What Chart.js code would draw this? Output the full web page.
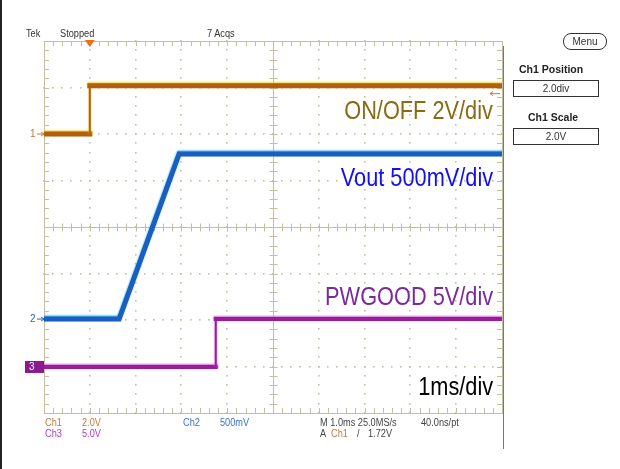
<!DOCTYPE html>
<html>
<head>
<meta charset="utf-8">
<script src="https://cdn.jsdelivr.net/npm/chart.js@4.4.1/dist/chart.umd.min.js"></script>
<style>
  body { margin: 0; background: #fff; }
  #wrap { position: relative; width: 620px; height: 469px; overflow: hidden; border-left: 2px solid #222; box-sizing: border-box; }
  #scope { position: absolute; left: -2px; top: 0; }
  .t { position: absolute; white-space: nowrap; font-family: "Liberation Sans Narrow", "Liberation Sans", Arial, sans-serif; }
  .s { font-size: 10px; line-height: 10px; color: #333; transform: scaleX(0.92); transform-origin: left; }
  .big { font-size: 25px; line-height: 25px; text-align: right; right: 127px; transform: scaleX(0.87); transform-origin: right; }
  .box { position: absolute; border: 1px solid #333; box-sizing: border-box; text-align: center;
         font-family: "Liberation Sans Narrow", "Liberation Sans", Arial, sans-serif; font-size: 10px; color: #333; }
  .hd { font-family: "Liberation Sans", Arial, sans-serif; font-weight: bold; font-size: 10.5px; color: #222; }
</style>
</head>
<body>
<div id="wrap">
  <canvas id="scope" width="620" height="469"></canvas>

  <div class="t s" style="left:24px;top:29px;">Tek</div>
  <div class="t s" style="left:58px;top:29px;">Stopped</div>
  <div class="t s" style="left:205px;top:29px;">7 Acqs</div>

  <div class="t big" style="top:98px;color:#8a6a14;">ON/OFF 2V/div</div>
  <div class="t big" style="top:165px;color:#1010f0;">Vout 500mV/div</div>
  <div class="t big" style="top:284px;color:#7a2a9c;">PWGOOD 5V/div</div>
  <div class="t big" style="top:374px;color:#000;">1ms/div</div>

  <div class="t s" style="left:43px;top:418px;color:#c07a3a;">Ch1</div>
  <div class="t s" style="left:80px;top:418px;color:#c07a3a;">2.0V</div>
  <div class="t s" style="left:43px;top:429px;color:#b23ac4;">Ch3</div>
  <div class="t s" style="left:80px;top:429px;color:#b23ac4;">5.0V</div>
  <div class="t s" style="left:181px;top:418px;color:#3a72cc;">Ch2</div>
  <div class="t s" style="left:218px;top:418px;color:#3a72cc;">500mV</div>
  <div class="t s" style="left:318px;top:418px;color:#444;">M 1.0ms 25.0MS/s</div>
  <div class="t s" style="left:419px;top:418px;color:#444;">40.0ns/pt</div>
  <div class="t s" style="left:318px;top:429px;color:#444;">A</div>
  <div class="t s" style="left:329px;top:429px;color:#c07a3a;">Ch1</div>
  <div class="t s" style="left:355px;top:429px;color:#444;">/</div>
  <div class="t s" style="left:366px;top:429px;color:#444;">1.72V</div>

  <div class="box" style="left:561px;top:33px;width:44px;height:17px;border-radius:8px;line-height:15px;font-size:10px;">Menu</div>
  <div class="t hd" style="left:517px;top:63px;">Ch1 Position</div>
  <div class="box" style="left:511px;top:80px;width:86px;height:17px;line-height:15px;">2.0div</div>
  <div class="t hd" style="left:526px;top:111px;">Ch1 Scale</div>
  <div class="box" style="left:511px;top:128px;width:86px;height:17px;line-height:15px;">2.0V</div>
</div>

<script>
// time in ms (1 div = 1 ms), level in screen divisions from centre
const timeCh1 = [0, 1.0, 1.0, 10];
const levelCh1 = [2.0, 2.0, 3.04, 3.04];
const timeCh2 = [0, 1.64, 2.95, 10];
const levelCh2 = [-1.98, -1.98, 1.57, 1.57];
const timeCh3 = [0, 3.75, 3.75, 10];
const levelCh3 = [-3.01, -3.01, -1.98, -1.98];
const triggerTime = 1.0;

const gridColor = '#c3bf9f';

function pts(t, v) {
    return t.map((x, i) => ({ x: x, y: v[i] }));
}

// vertical edges of a step are drawn thin like on the scope
function edgeWidth(w) {
    return ctx => (ctx.p0.parsed.x === ctx.p1.parsed.x ? 2 : w);
}

// graticule, channel markers and trigger marker
const tekGrid = {
    id: 'tekGrid',
    beforeDatasetsDraw(chart) {
        const { ctx, chartArea: a, scales: { x, y } } = chart;
        ctx.save();
        ctx.fillStyle = gridColor;
        ctx.strokeStyle = gridColor;
        ctx.lineWidth = 1;

        // dots along major lines
        for (let i = 1; i < 10; i++) {
            if (i === 5) continue;
            const px = Math.round(x.getPixelForValue(i));
            for (let j = 0; j <= 40; j++) {
                const py = Math.round(y.getPixelForValue(-4 + j * 0.2));
                ctx.fillRect(px - 1, py - 1, 1.6, 1.6);
            }
        }
        for (let i = -3; i <= 3; i++) {
            if (i === 0) continue;
            const py = Math.round(y.getPixelForValue(i));
            for (let j = 0; j <= 50; j++) {
                const px = Math.round(x.getPixelForValue(j * 0.2));
                ctx.fillRect(px - 1, py - 1, 1.6, 1.6);
            }
        }

        // border
        ctx.strokeRect(a.left + 0.5, a.top + 0.5, a.right - a.left, a.bottom - a.top);

        // centre cross
        const cx = Math.round(x.getPixelForValue(5)) + 0.5;
        const cy = Math.round(y.getPixelForValue(0)) + 0.5;
        ctx.beginPath();
        ctx.moveTo(a.left, cy); ctx.lineTo(a.right, cy);
        ctx.moveTo(cx, a.top); ctx.lineTo(cx, a.bottom);

        // minor ticks
        for (let j = 1; j < 50; j++) {
            const px = Math.round(x.getPixelForValue(j * 0.2)) + 0.5;
            ctx.moveTo(px, a.top); ctx.lineTo(px, a.top + 5);
            ctx.moveTo(px, a.bottom); ctx.lineTo(px, a.bottom - 5);
            ctx.moveTo(px, cy - 4); ctx.lineTo(px, cy + 4);
        }
        for (let j = 1; j < 40; j++) {
            const py = Math.round(y.getPixelForValue(-4 + j * 0.2)) + 0.5;
            ctx.moveTo(a.left, py); ctx.lineTo(a.left + 5, py);
            ctx.moveTo(a.right, py); ctx.lineTo(a.right - 5, py);
            ctx.moveTo(cx - 4, py); ctx.lineTo(cx + 4, py);
        }
        ctx.stroke();

        // right edge dark line running down past the graticule
        ctx.strokeStyle = '#777';
        ctx.beginPath();
        ctx.moveTo(a.right + 1.5, a.top + 5);
        ctx.lineTo(a.right + 1.5, a.bottom + 36);
        ctx.stroke();

        // trigger marker on top
        const tx = x.getPixelForValue(triggerTime);
        ctx.fillStyle = '#f07010';
        ctx.beginPath();
        ctx.moveTo(tx - 5, a.top - 1);
        ctx.lineTo(tx + 5, a.top - 1);
        ctx.lineTo(tx, a.top + 6);
        ctx.closePath();
        ctx.fill();

        // trigger level arrow on right
        const ty = y.getPixelForValue(levelCh1[2]) + 8;
        ctx.strokeStyle = '#c07a3a';
        ctx.beginPath();
        ctx.moveTo(a.right - 2, ty); ctx.lineTo(a.right - 12, ty);
        ctx.moveTo(a.right - 12, ty); ctx.lineTo(a.right - 9, ty - 2);
        ctx.moveTo(a.right - 12, ty); ctx.lineTo(a.right - 9, ty + 2);
        ctx.stroke();

        // channel ground markers
        ctx.font = '10px "Liberation Sans", Arial, sans-serif';
        ctx.textBaseline = 'middle';
        const marks = [
            { lv: levelCh1[0], col: '#c07a3a', txt: '1' },
            { lv: levelCh2[0], col: '#2a64c4', txt: '2' }
        ];
        marks.forEach(m => {
            const my = y.getPixelForValue(m.lv);
            ctx.fillStyle = m.col;
            ctx.strokeStyle = m.col;
            ctx.fillText(m.txt, a.left - 14, my);
            ctx.beginPath();
            ctx.moveTo(a.left - 7, my); ctx.lineTo(a.left, my);
            ctx.lineTo(a.left - 3, my - 2);
            ctx.moveTo(a.left, my); ctx.lineTo(a.left - 3, my + 2);
            ctx.stroke();
        });
        const m3 = y.getPixelForValue(levelCh3[0]);
        ctx.fillStyle = '#8a1a8e';
        ctx.fillRect(a.left - 19, m3 - 6, 19, 12);
        ctx.fillStyle = '#fff';
        ctx.fillText('3', a.left - 15, m3);
        ctx.restore();
    }
};

const glow = {
    id: 'glow',
    beforeDatasetDraw(chart, args) {
        const c = ['#e8d028', '#38b8e8', '#d070d0'][args.index];
        chart.ctx.save();
        chart.ctx.shadowColor = c;
        chart.ctx.shadowBlur = 2;
        chart.ctx.shadowOffsetY = -1;
    },
    afterDatasetDraw(chart) {
        chart.ctx.restore();
    }
};

new Chart(document.getElementById('scope'), {
    type: 'line',
    data: {
        datasets: [
            { label: 'Ch1', data: pts(timeCh1, levelCh1), borderColor: '#b25e10', borderWidth: 5,
              segment: { borderWidth: edgeWidth(5) } },
            { label: 'Ch2', data: pts(timeCh2, levelCh2), borderColor: '#1a5ec0', borderWidth: 5 },
            { label: 'Ch3', data: pts(timeCh3, levelCh3), borderColor: '#9a1c9a', borderWidth: 4,
              segment: { borderWidth: edgeWidth(4) } }
        ]
    },
    options: {
        responsive: false,
        animation: false,
        devicePixelRatio: 1,
        layout: { padding: { left: 44, top: 41, right: 118, bottom: 56 } },
        elements: { point: { radius: 0 }, line: { tension: 0, borderJoinStyle: 'miter', borderCapStyle: 'square' } },
        plugins: { legend: { display: false }, tooltip: { enabled: false } },
        scales: {
            x: { type: 'linear', min: 0, max: 10, display: false },
            y: { type: 'linear', min: -4, max: 4, display: false }
        }
    },
    plugins: [tekGrid, glow]
});
</script>
</body>
</html>
